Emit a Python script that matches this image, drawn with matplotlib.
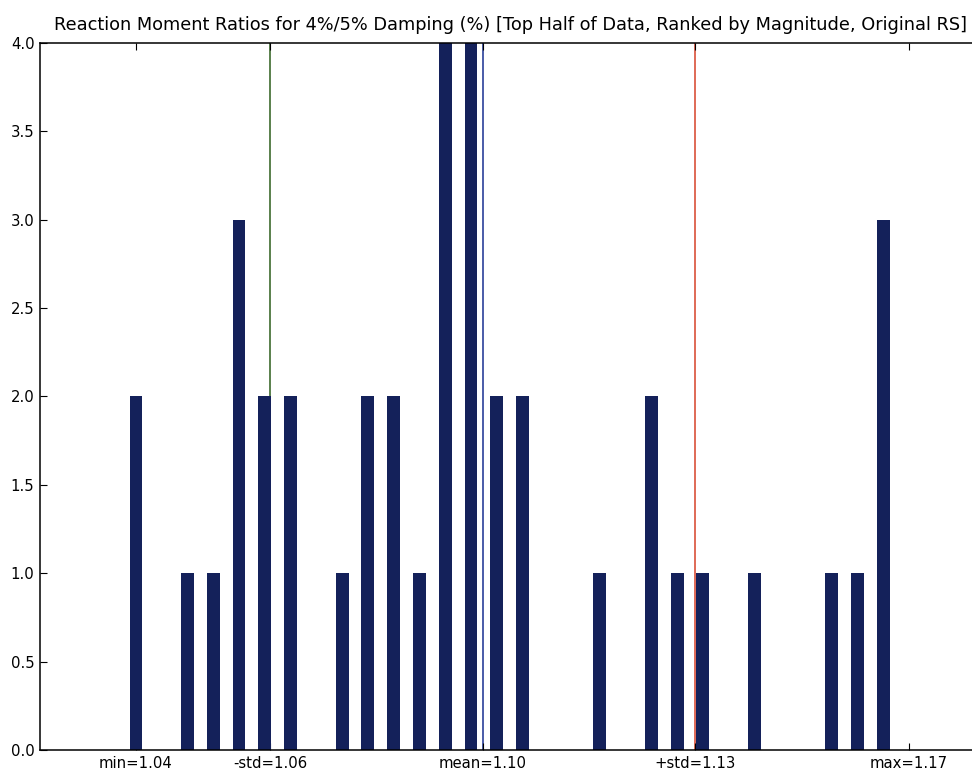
import matplotlib
matplotlib.use('Agg')
import matplotlib.pyplot as plt
import numpy as np

# histogram of ratios, 30 bins between min and max
counts = [2, 0, 1, 1, 3, 2, 2, 0, 1, 2, 2, 1, 4, 4, 2, 2, 0, 0, 1, 0,
          2, 1, 1, 0, 1, 0, 0, 1, 1, 3]
val_min = 1.04
val_max = 1.17
val_mean = 1.0983
val_std = 0.0357

nbins = len(counts)
bin_w = (val_max - val_min) / nbins
edges = [val_min + i * bin_w for i in range(nbins)]

fig = plt.figure(figsize=(9.72, 7.72), dpi=100)
ax = fig.add_axes([40 / 972., 1 - 750 / 772., 941 / 972., (750 - 42.7) / 772.])

ax.axvline(val_mean - val_std, color='#3d6b2e', lw=1.2, zorder=1)
ax.axvline(val_mean, color='#2a3f9a', lw=1.2, zorder=1)
ax.axvline(val_mean + val_std, color='#d9503a', lw=1.2, zorder=1)

ax.bar(edges, counts, width=bin_w * 0.5, align='center', color='#14215a',
       edgecolor='#14215a', linewidth=0, zorder=2)

ax.set_xlim(1.02386, 1.1821)
ax.set_ylim(0, 4.0)
ax.set_yticks(np.arange(0, 4.01, 0.5))
ax.set_yticklabels(['%.1f' % v for v in np.arange(0, 4.01, 0.5)], fontsize=10.7)

xt = [val_min, val_mean - val_std, val_mean, val_mean + val_std, val_max]
xl = ['min=%.2f' % val_min, '-std=%.2f' % (val_mean - val_std), 'mean=%.2f' % val_mean,
      '+std=%.2f' % (val_mean + val_std), 'max=%.2f' % val_max]
ax.set_xticks(xt)
ax.set_xticklabels(xl, fontsize=10.7)

ax.tick_params(direction='in', top=True, right=True, length=5, width=0.8, pad=4)
for s in ax.spines.values():
    s.set_linewidth(1.1)

ax.set_title('Reaction Moment Ratios for 4%/5% Damping (%) [Top Half of Data, Ranked by Magnitude, Original RS]',
             fontsize=12.8, pad=9)

plt.savefig('out.png', dpi=100)
